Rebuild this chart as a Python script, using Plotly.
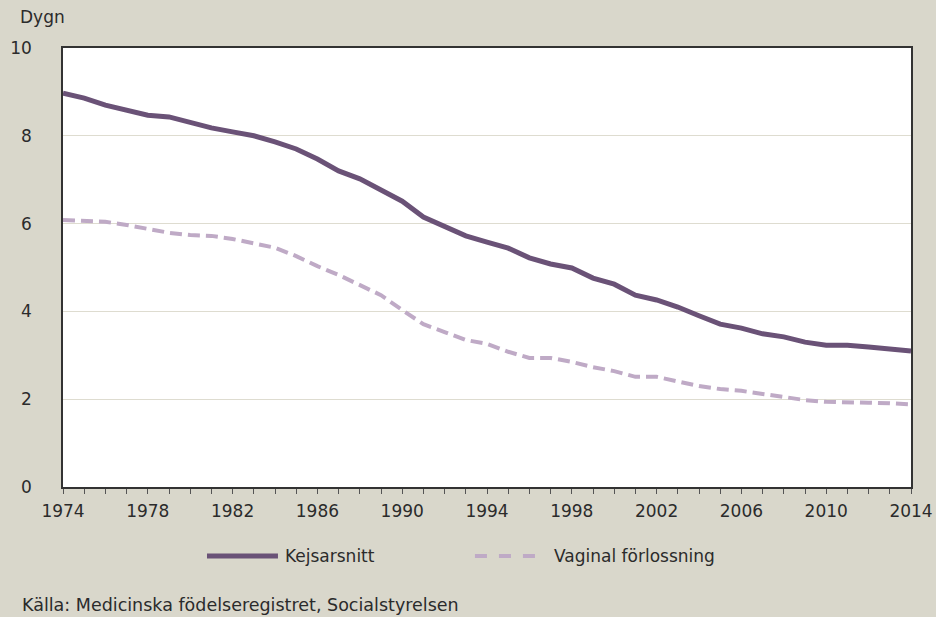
import plotly.graph_objects as go

years = list(range(1974, 2015))

# Medelvårdtid (dygn) efter förlossningssätt
kejsarsnitt = [8.97, 8.86, 8.70, 8.59, 8.47, 8.43, 8.31, 8.18, 8.09, 8.00,
               7.86, 7.70, 7.47, 7.20, 7.02, 6.77, 6.51, 6.15, 5.92, 5.72,
               5.58, 5.44, 5.22, 5.08, 4.99, 4.76, 4.62, 4.37, 4.26, 4.10,
               3.90, 3.71, 3.62, 3.49, 3.42, 3.30, 3.23, 3.23, 3.19, 3.14,
               3.10]
vaginal = [6.08, 6.07, 6.04, 5.97, 5.88, 5.79, 5.74, 5.72, 5.65, 5.56,
           5.45, 5.26, 5.03, 4.83, 4.60, 4.37, 4.03, 3.71, 3.53, 3.35,
           3.26, 3.08, 2.94, 2.94, 2.85, 2.73, 2.64, 2.51, 2.51, 2.41,
           2.30, 2.23, 2.19, 2.12, 2.05, 1.98, 1.94, 1.94, 1.92, 1.91,
           1.88]

series_names = ["Kejsarsnitt", "Vaginal förlossning"]
x_ticks = list(range(1974, 2015, 4))
y_ticks = [0, 2, 4, 6, 8, 10]

dark = "#6a5277"
light = "#bfaac6"
bg = "#d9d7cb"
txt = "#2b2b2b"
font_family = "DejaVu Sans"

fig = go.Figure()
fig.add_trace(go.Scatter(x=years, y=kejsarsnitt, mode="lines", name=series_names[0],
                         line=dict(color=dark, width=5), showlegend=False))
fig.add_trace(go.Scatter(x=years, y=vaginal, mode="lines", name=series_names[1],
                         line=dict(color=light, width=4, dash="12px,6px"), showlegend=False))

fig.update_layout(
    width=936, height=617,
    margin=dict(l=63, r=25, t=48, b=130),
    paper_bgcolor=bg, plot_bgcolor="white",
    font=dict(family=font_family, size=17, color=txt),
    xaxis=dict(range=[1974, 2014], tickvals=x_ticks, ticktext=[str(v) for v in x_ticks],
               showgrid=False, zeroline=False, showline=True, linecolor="#333333",
               linewidth=1.5, mirror=True, ticks="outside", ticklen=5, tickcolor="#555555",
               ticklabelstandoff=3, automargin=False,
               minor=dict(ticks="outside", ticklen=5, dtick=1, tickcolor="#555555",
                          showgrid=False)),
    yaxis=dict(range=[0, 10], tickvals=y_ticks, showgrid=True, gridcolor="#dedcd0",
               gridwidth=1, zeroline=False, showline=True, linecolor="#333333",
               linewidth=1.5, mirror=True, ticks="", ticklabelstandoff=26,
               automargin=False),
)

# Legend drawn as line samples with labels below the plot
legend_items = [
    (series_names[0], dark, 5, "solid", 0.1698, 0.2535, 0.2594),
    (series_names[1], light, 4, "dash", 0.4858, 0.5637, 0.5767),
]
for name, color, w, dash, x0, x1, xt in legend_items:
    fig.add_shape(type="line", xref="paper", yref="paper", x0=x0, x1=x1,
                  y0=-0.157, y1=-0.157, line=dict(color=color, width=w, dash=dash))
    fig.add_annotation(text=name, xref="paper", yref="paper", x=xt, y=-0.157,
                       xanchor="left", yanchor="middle", showarrow=False,
                       font=dict(size=17, color=txt))

fig.add_annotation(text="Dygn", xref="paper", yref="paper", x=-0.053, y=1.0706,
                   xanchor="left", yanchor="middle", showarrow=False,
                   font=dict(size=17, color=txt))
fig.add_annotation(text="Källa: Medicinska födelseregistret, Socialstyrelsen",
                   xref="paper", yref="paper", x=-0.0507, y=-0.2688,
                   xanchor="left", yanchor="middle", showarrow=False,
                   font=dict(size=17.5, color=txt))

fig.write_html("out.html")
